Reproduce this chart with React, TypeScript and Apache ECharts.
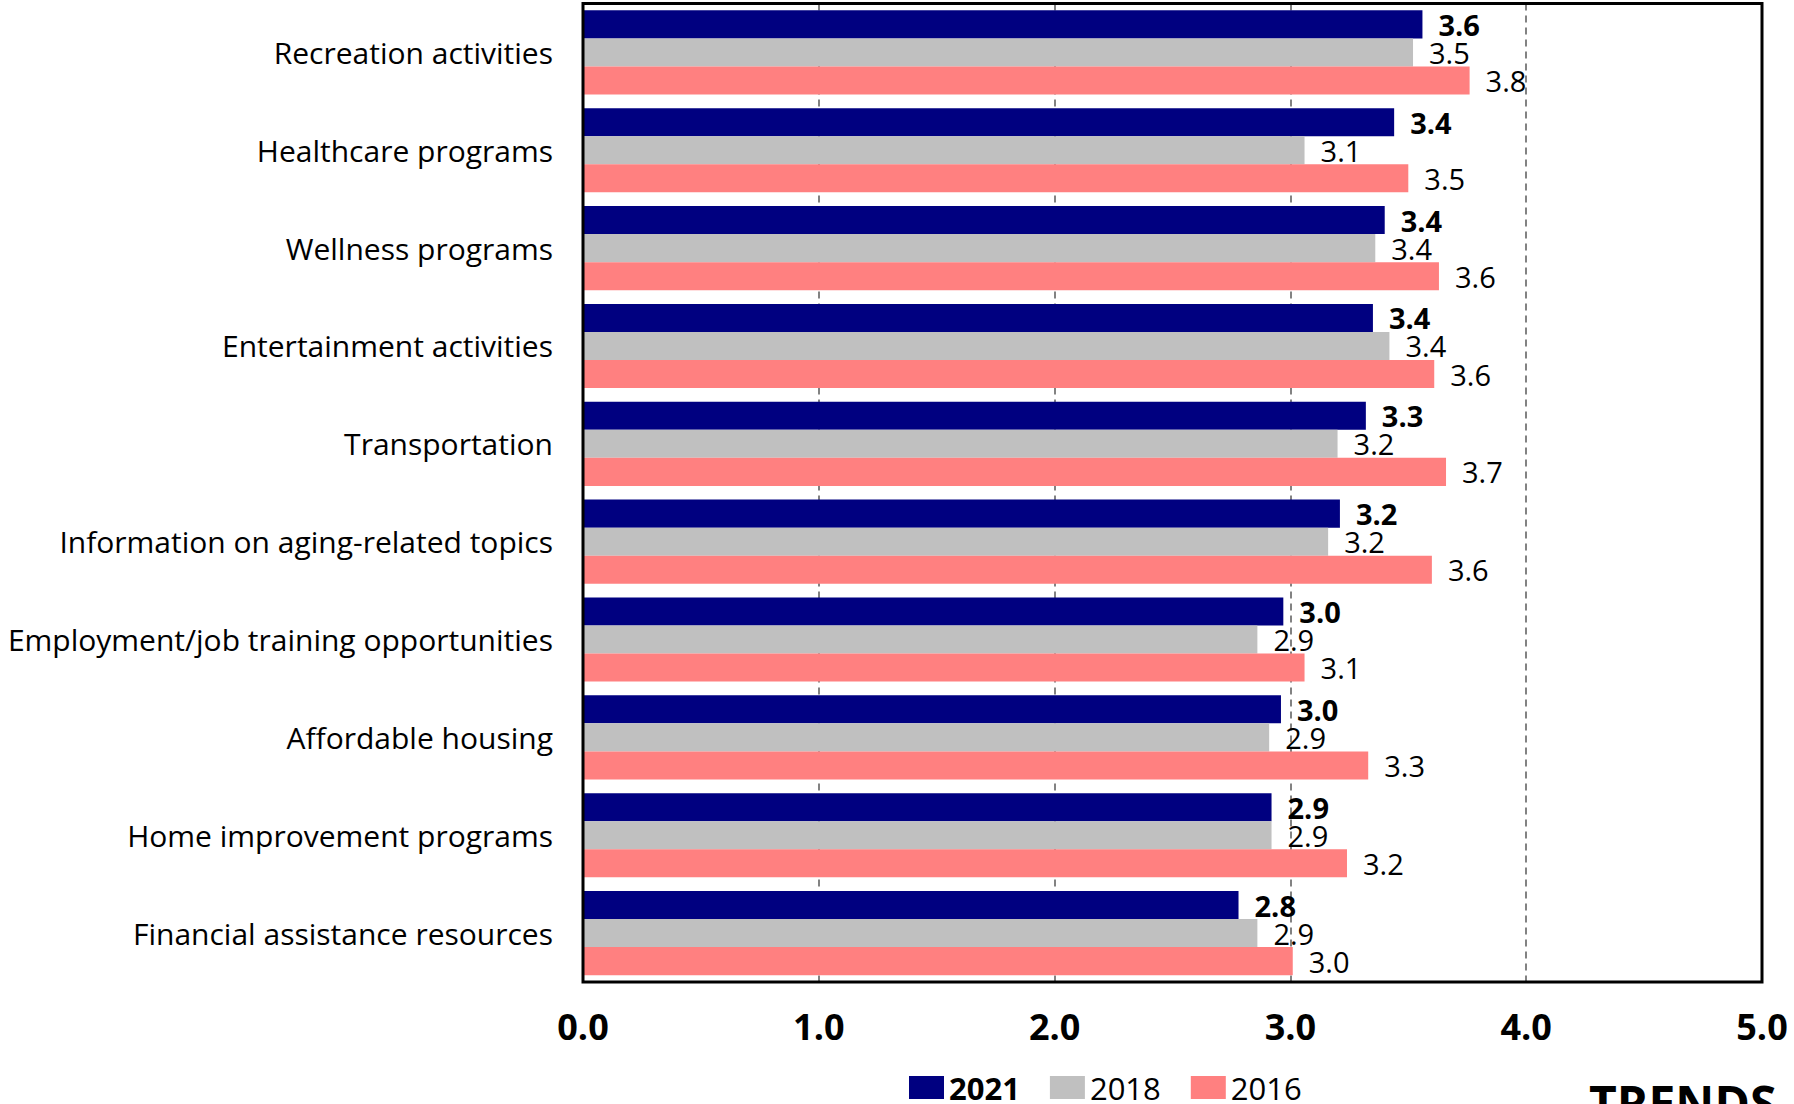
import React, { useEffect, useRef } from "react";
import * as echarts from "echarts";

const categories = [
  "Recreation activities",
  "Healthcare programs",
  "Wellness programs",
  "Entertainment activities",
  "Transportation",
  "Information on aging-related topics",
  "Employment/job training opportunities",
  "Affordable housing",
  "Home improvement programs",
  "Financial assistance resources",
];
const seriesNames = ["2021", "2018", "2016"];
const values2021 = [3.56, 3.44, 3.4, 3.35, 3.32, 3.21, 2.97, 2.96, 2.92, 2.78];
const values2018 = [3.52, 3.06, 3.36, 3.42, 3.2, 3.16, 2.86, 2.91, 2.92, 2.86];
const values2016 = [3.76, 3.5, 3.63, 3.61, 3.66, 3.6, 3.06, 3.33, 3.24, 3.01];
const colors = ["#000080", "#C0C0C0", "#FF8080"];
const xTicks = { min: 0, max: 5, interval: 1 };

const FONT = "'Open Sans', sans-serif";

export default function App() {
  const ref = useRef<HTMLDivElement>(null);
  useEffect(() => {
    if (!ref.current) return;
    const chart = echarts.init(ref.current, undefined, { renderer: "svg" });
    const allValues = [values2021, values2018, values2016];
    const gridLeft = 583;
    const gridRight = 32;
    const gridTop = 3.5;
    const gridBottom = 122;
    const W = 1794;
    const H = 1104;
    chart.setOption({
      animation: false,
      backgroundColor: "#ffffff",
      textStyle: { fontFamily: FONT },
      grid: {
        left: gridLeft,
        right: gridRight,
        top: gridTop,
        bottom: gridBottom,
        containLabel: false,
      },
      legend: {
        left: 909,
        top: 1072,
        padding: 0,
        itemWidth: 35,
        itemHeight: 23,
        itemGap: 30,
        icon: "rect",
        textStyle: { fontSize: 31, color: "#000", fontFamily: FONT },
        data: [
          { name: "2021", textStyle: { fontWeight: "bold" } },
          { name: "2018" },
          { name: "2016" },
        ],
      },
      xAxis: {
        type: "value",
        min: xTicks.min,
        max: xTicks.max,
        interval: xTicks.interval,
        axisLine: { show: false },
        axisTick: { show: false },
        axisLabel: {
          formatter: (v: number) => v.toFixed(1),
          fontSize: 36,
          fontWeight: "bold",
          color: "#000",
          margin: 26,
          fontFamily: FONT,
        },
        splitLine: {
          show: true,
          lineStyle: { color: "#595959", width: 1.5, type: [7, 5] },
        },
      },
      yAxis: {
        type: "category",
        data: categories,
        inverse: true,
        axisLine: { show: false },
        axisTick: { show: false },
        axisLabel: {
          fontSize: 30,
          color: "#000",
          margin: 30,
          fontFamily: FONT,
        },
      },
      series: seriesNames.map((name, i) => ({
        name,
        type: "bar",
        data: allValues[i],
        barGap: "0%",
        barCategoryGap: "14%",
        itemStyle: { color: colors[i] },
        label: {
          show: true,
          position: "right",
          distance: 16,
          formatter: (p: any) => Number(p.value).toFixed(1),
          fontSize: 29,
          fontWeight: i === 0 ? "bold" : "normal",
          color: "#000",
          fontFamily: FONT,
        },
      })),
      graphic: [
        {
          type: "rect",
          z: 100,
          shape: {
            x: gridLeft,
            y: gridTop,
            width: W - gridLeft - gridRight,
            height: H - gridTop - gridBottom,
          },
          style: { fill: "none", stroke: "#000", lineWidth: 3 },
          silent: true,
        },
        {
          type: "text",
          z: 100,
          x: 1589,
          y: 1078,
          style: {
            text: "TRENDS",
            fontSize: 48,
            fontWeight: "bold",
            fontFamily: FONT,
            fill: "#000",
            verticalAlign: "top",
          },
        },
      ],
    });
    return () => chart.dispose();
  }, []);
  return (
    <div
      ref={ref}
      style={{ position: "fixed", left: 0, top: 0, width: 1794, height: 1104 }}
    />
  );
}
